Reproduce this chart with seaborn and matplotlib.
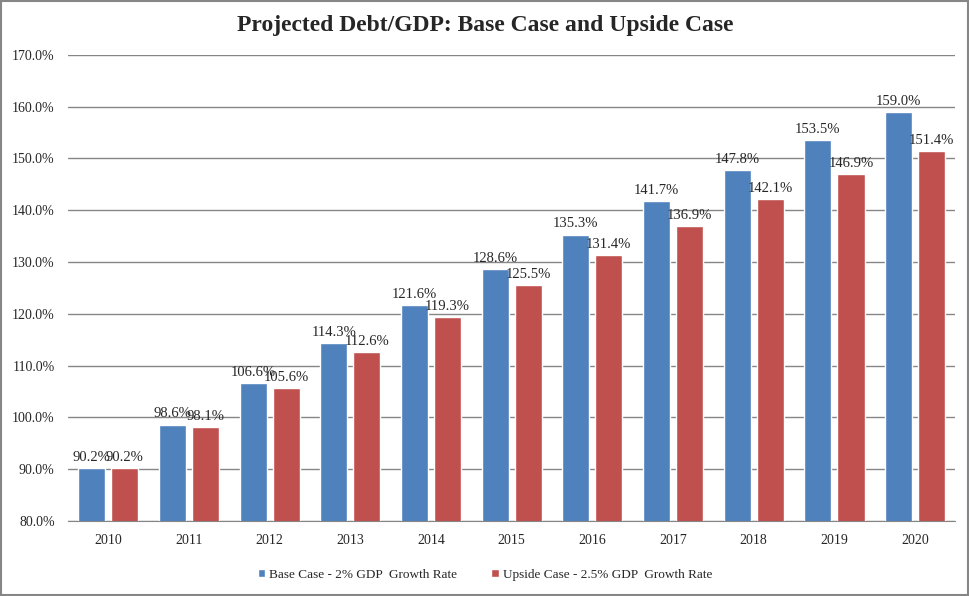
import matplotlib.pyplot as plt
import pandas as pd
import seaborn as sns
from matplotlib.patches import Rectangle

years = ["2010", "2011", "2012", "2013", "2014", "2015", "2016", "2017", "2018", "2019", "2020"]
base_case = [90.2, 98.6, 106.6, 114.3, 121.6, 128.6, 135.3, 141.7, 147.8, 153.5, 159.0]
upside_case = [90.2, 98.1, 105.6, 112.6, 119.3, 125.5, 131.4, 136.9, 142.1, 146.9, 151.4]
series_names = ["Base Case - 2% GDP  Growth Rate", "Upside Case - 2.5% GDP  Growth Rate"]

df = pd.DataFrame({
    "year": years * 2,
    "value": base_case + upside_case,
    "series": [series_names[0]] * len(years) + [series_names[1]] * len(years),
})

sns.set_style("white")
plt.rcParams["font.family"] = ["Liberation Serif", "DejaVu Serif"]

fig = plt.figure(figsize=(9.7, 5.96), dpi=100)
ax = fig.add_axes([0.07, 0.126, 0.915, 0.782])

sns.barplot(data=df, x="year", y="value", hue="series", ax=ax,
            palette=["#4F81BD", "#C0504D"], width=0.82, gap=0.18,
            saturation=1, legend=True)

# data labels on top of every bar
for cont in ax.containers:
    ax.bar_label(cont, fmt="%.1f%%", fontsize=10.5, padding=3)

ax.set_ylim(80, 170)
ax.set_yticks(range(80, 171, 10))
ax.set_yticklabels([f"{v:.1f}%" for v in range(80, 171, 10)], fontsize=10)
ax.tick_params(axis="x", labelsize=10, pad=6)
ax.tick_params(axis="y", pad=6)
ax.set_xlim(-0.5, len(years) - 0.5)
ax.yaxis.grid(True, color="#868686", linewidth=1)
ax.set_axisbelow(True)
for s in ["left", "right", "top"]:
    ax.spines[s].set_visible(False)
ax.spines["bottom"].set_color("#868686")
ax.set_xlabel("")
ax.set_ylabel("")

fig.suptitle("Projected Debt/GDP: Base Case and Upside Case", fontsize=17,
             fontweight="bold", y=0.958, x=0.5, va="center")

handles, labels = ax.get_legend_handles_labels()
ax.get_legend().remove()
fig.legend(handles, labels, loc="center", bbox_to_anchor=(0.5, 0.035), ncol=2,
           frameon=False, fontsize=9.5, handlelength=0.55, handleheight=0.55,
           columnspacing=2.6, handletextpad=0.3)

fig.patches.append(Rectangle((0.001, 0.002), 0.997, 0.996, transform=fig.transFigure,
                             fill=False, edgecolor="#868686", linewidth=1.5))

fig.savefig("out.png", dpi=100)
